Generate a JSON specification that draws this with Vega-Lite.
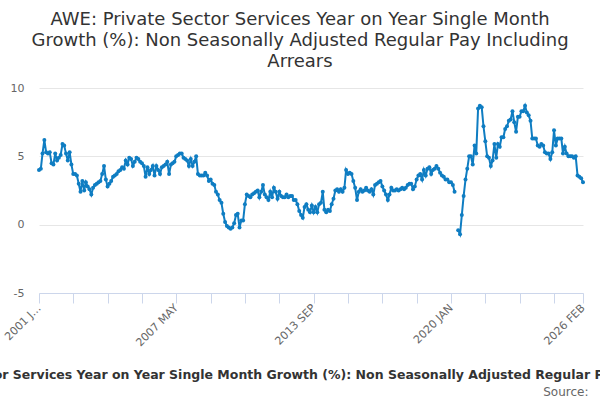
{
  "$schema": "https://vega.github.io/schema/vega-lite/v6.json",
  "width": 544,
  "height": 205,
  "autosize": {"type": "none"},
  "padding": {"left": 39, "top": 88, "right": 17, "bottom": 107},
  "background": "white",
  "config": {"font": "DejaVu Sans", "view": {"stroke": null}},
  "title": {
    "text": ["AWE: Private Sector Services Year on Year Single Month", "Growth (%): Non Seasonally Adjusted Regular Pay Including", "Arrears"],
    "anchor": "middle",
    "dx": -11,
    "offset": 11,
    "fontSize": 18,
    "fontWeight": "normal",
    "color": "#333333",
    "lineHeight": 21
  },
  "datasets": {
    "awe": [
      {"d":"2001-01","v":4.0},{"d":"2001-02","v":4.1},{"d":"2001-03","v":5.2},{"d":"2001-04","v":6.2},{"d":"2001-05","v":5.3},{"d":"2001-06","v":5.2},{"d":"2001-07","v":5.3},{"d":"2001-08","v":4.5},{"d":"2001-09","v":4.4},{"d":"2001-10","v":5.2},{"d":"2001-11","v":4.7},{"d":"2001-12","v":4.9},
      {"d":"2002-01","v":5.1},{"d":"2002-02","v":5.9},{"d":"2002-03","v":5.8},{"d":"2002-04","v":5.2},{"d":"2002-05","v":4.7},{"d":"2002-06","v":5.3},{"d":"2002-07","v":4.4},{"d":"2002-08","v":3.7},{"d":"2002-09","v":3.7},{"d":"2002-10","v":3.6},{"d":"2002-11","v":3.0},{"d":"2002-12","v":2.4},
      {"d":"2003-01","v":3.2},{"d":"2003-02","v":2.5},{"d":"2003-03","v":3.1},{"d":"2003-04","v":2.8},{"d":"2003-05","v":2.6},{"d":"2003-06","v":2.2},{"d":"2003-07","v":2.7},{"d":"2003-08","v":2.9},{"d":"2003-09","v":3.0},{"d":"2003-10","v":3.1},{"d":"2003-11","v":3.2},{"d":"2003-12","v":3.7},
      {"d":"2004-01","v":4.3},{"d":"2004-02","v":3.3},{"d":"2004-03","v":2.8},{"d":"2004-04","v":3.0},{"d":"2004-05","v":3.2},{"d":"2004-06","v":3.5},{"d":"2004-07","v":3.6},{"d":"2004-08","v":3.7},{"d":"2004-09","v":3.9},{"d":"2004-10","v":4.0},{"d":"2004-11","v":4.2},{"d":"2004-12","v":4.1},
      {"d":"2005-01","v":4.7},{"d":"2005-02","v":4.4},{"d":"2005-03","v":4.9},{"d":"2005-04","v":4.8},{"d":"2005-05","v":4.3},{"d":"2005-06","v":4.6},{"d":"2005-07","v":4.9},{"d":"2005-08","v":4.8},{"d":"2005-09","v":4.6},{"d":"2005-10","v":4.5},{"d":"2005-11","v":4.3},{"d":"2005-12","v":3.5},
      {"d":"2006-01","v":4.2},{"d":"2006-02","v":3.7},{"d":"2006-03","v":4.0},{"d":"2006-04","v":4.3},{"d":"2006-05","v":3.6},{"d":"2006-06","v":4.3},{"d":"2006-07","v":4.0},{"d":"2006-08","v":3.7},{"d":"2006-09","v":4.2},{"d":"2006-10","v":4.3},{"d":"2006-11","v":4.4},{"d":"2006-12","v":4.6},
      {"d":"2007-01","v":3.7},{"d":"2007-02","v":4.4},{"d":"2007-03","v":4.5},{"d":"2007-04","v":4.6},{"d":"2007-05","v":5.0},{"d":"2007-06","v":5.1},{"d":"2007-07","v":5.2},{"d":"2007-08","v":5.2},{"d":"2007-09","v":4.9},{"d":"2007-10","v":4.8},{"d":"2007-11","v":4.7},{"d":"2007-12","v":4.3},
      {"d":"2008-01","v":4.8},{"d":"2008-02","v":4.3},{"d":"2008-03","v":4.6},{"d":"2008-04","v":5.0},{"d":"2008-05","v":3.7},{"d":"2008-06","v":3.6},{"d":"2008-07","v":3.6},{"d":"2008-08","v":3.6},{"d":"2008-09","v":3.8},{"d":"2008-10","v":3.6},{"d":"2008-11","v":3.2},{"d":"2008-12","v":3.3},
      {"d":"2009-01","v":3.0},{"d":"2009-02","v":2.9},{"d":"2009-03","v":2.4},{"d":"2009-04","v":2.2},{"d":"2009-05","v":1.8},{"d":"2009-06","v":1.6},{"d":"2009-07","v":0.8},{"d":"2009-08","v":0.2},{"d":"2009-09","v":-0.1},{"d":"2009-10","v":-0.2},{"d":"2009-11","v":-0.3},{"d":"2009-12","v":-0.2},
      {"d":"2010-01","v":0.1},{"d":"2010-02","v":0.7},{"d":"2010-03","v":0.8},{"d":"2010-04","v":-0.2},{"d":"2010-05","v":0.3},{"d":"2010-06","v":0.3},{"d":"2010-07","v":1.5},{"d":"2010-08","v":2.2},{"d":"2010-09","v":2.1},{"d":"2010-10","v":2.0},{"d":"2010-11","v":2.2},{"d":"2010-12","v":2.3},
      {"d":"2011-01","v":2.4},{"d":"2011-02","v":2.5},{"d":"2011-03","v":2.0},{"d":"2011-04","v":2.4},{"d":"2011-05","v":2.9},{"d":"2011-06","v":2.2},{"d":"2011-07","v":2.0},{"d":"2011-08","v":1.8},{"d":"2011-09","v":2.4},{"d":"2011-10","v":2.0},{"d":"2011-11","v":2.7},{"d":"2011-12","v":2.4},
      {"d":"2012-01","v":1.9},{"d":"2012-02","v":2.4},{"d":"2012-03","v":2.1},{"d":"2012-04","v":2.0},{"d":"2012-05","v":2.0},{"d":"2012-06","v":2.2},{"d":"2012-07","v":2.0},{"d":"2012-08","v":2.1},{"d":"2012-09","v":2.1},{"d":"2012-10","v":1.8},{"d":"2012-11","v":1.8},{"d":"2012-12","v":1.5},
      {"d":"2013-01","v":1.0},{"d":"2013-02","v":0.7},{"d":"2013-03","v":0.5},{"d":"2013-04","v":1.3},{"d":"2013-05","v":1.5},{"d":"2013-06","v":1.1},{"d":"2013-07","v":0.9},{"d":"2013-08","v":1.4},{"d":"2013-09","v":0.9},{"d":"2013-10","v":1.3},{"d":"2013-11","v":0.9},{"d":"2013-12","v":1.5},
      {"d":"2014-01","v":1.6},{"d":"2014-02","v":2.4},{"d":"2014-03","v":1.1},{"d":"2014-04","v":0.9},{"d":"2014-05","v":1.1},{"d":"2014-06","v":1.0},{"d":"2014-07","v":1.5},{"d":"2014-08","v":1.9},{"d":"2014-09","v":2.5},{"d":"2014-10","v":2.6},{"d":"2014-11","v":2.4},{"d":"2014-12","v":2.6},
      {"d":"2015-01","v":2.4},{"d":"2015-02","v":2.7},{"d":"2015-03","v":4.0},{"d":"2015-04","v":3.7},{"d":"2015-05","v":3.8},{"d":"2015-06","v":3.7},{"d":"2015-07","v":3.2},{"d":"2015-08","v":2.7},{"d":"2015-09","v":1.8},{"d":"2015-10","v":2.4},{"d":"2015-11","v":2.6},{"d":"2015-12","v":2.4},
      {"d":"2016-01","v":2.5},{"d":"2016-02","v":2.7},{"d":"2016-03","v":2.5},{"d":"2016-04","v":2.4},{"d":"2016-05","v":2.6},{"d":"2016-06","v":2.2},{"d":"2016-07","v":2.9},{"d":"2016-08","v":3.0},{"d":"2016-09","v":3.1},{"d":"2016-10","v":3.2},{"d":"2016-11","v":2.8},{"d":"2016-12","v":2.5},
      {"d":"2017-01","v":2.2},{"d":"2017-02","v":1.8},{"d":"2017-03","v":2.2},{"d":"2017-04","v":2.7},{"d":"2017-05","v":2.5},{"d":"2017-06","v":2.5},{"d":"2017-07","v":2.6},{"d":"2017-08","v":2.5},{"d":"2017-09","v":2.6},{"d":"2017-10","v":2.7},{"d":"2017-11","v":2.6},{"d":"2017-12","v":2.7},
      {"d":"2018-01","v":2.9},{"d":"2018-02","v":3.0},{"d":"2018-03","v":3.0},{"d":"2018-04","v":2.6},{"d":"2018-05","v":2.8},{"d":"2018-06","v":3.3},{"d":"2018-07","v":3.6},{"d":"2018-08","v":3.7},{"d":"2018-09","v":3.3},{"d":"2018-10","v":4.0},{"d":"2018-11","v":3.6},{"d":"2018-12","v":4.1},
      {"d":"2019-01","v":4.2},{"d":"2019-02","v":3.7},{"d":"2019-03","v":4.0},{"d":"2019-04","v":4.1},{"d":"2019-05","v":4.3},{"d":"2019-06","v":4.1},{"d":"2019-07","v":3.8},{"d":"2019-08","v":3.6},{"d":"2019-09","v":3.5},{"d":"2019-10","v":3.3},{"d":"2019-11","v":3.3},{"d":"2019-12","v":3.1},
      {"d":"2020-01","v":3.1},{"d":"2020-02","v":2.9},{"d":"2020-03","v":2.4},{"d":"2020-04","v":null},{"d":"2020-05","v":-0.4},{"d":"2020-06","v":-0.7},{"d":"2020-07","v":0.7},{"d":"2020-08","v":2.1},{"d":"2020-09","v":3.3},{"d":"2020-10","v":4.1},{"d":"2020-11","v":5.0},{"d":"2020-12","v":5.0},
      {"d":"2021-01","v":4.4},{"d":"2021-02","v":5.8},{"d":"2021-03","v":5.2},{"d":"2021-04","v":8.5},{"d":"2021-05","v":8.7},{"d":"2021-06","v":8.6},{"d":"2021-07","v":7.2},{"d":"2021-08","v":6.1},{"d":"2021-09","v":5.0},{"d":"2021-10","v":4.9},{"d":"2021-11","v":4.3},{"d":"2021-12","v":4.7},
      {"d":"2022-01","v":5.9},{"d":"2022-02","v":4.9},{"d":"2022-03","v":5.9},{"d":"2022-04","v":5.7},{"d":"2022-05","v":6.4},{"d":"2022-06","v":6.4},{"d":"2022-07","v":7.0},{"d":"2022-08","v":7.2},{"d":"2022-09","v":7.6},{"d":"2022-10","v":7.7},{"d":"2022-11","v":8.3},{"d":"2022-12","v":7.5},
      {"d":"2023-01","v":6.8},{"d":"2023-02","v":7.9},{"d":"2023-03","v":7.9},{"d":"2023-04","v":8.3},{"d":"2023-05","v":8.3},{"d":"2023-06","v":8.7},{"d":"2023-07","v":8.2},{"d":"2023-08","v":8.0},{"d":"2023-09","v":7.6},{"d":"2023-10","v":6.3},{"d":"2023-11","v":6.3},{"d":"2023-12","v":6.3},
      {"d":"2024-01","v":5.8},{"d":"2024-02","v":5.7},{"d":"2024-03","v":5.9},{"d":"2024-04","v":5.8},{"d":"2024-05","v":5.3},{"d":"2024-06","v":5.2},{"d":"2024-07","v":5.2},{"d":"2024-08","v":4.8},{"d":"2024-09","v":5.3},{"d":"2024-10","v":6.9},{"d":"2024-11","v":5.8},{"d":"2024-12","v":6.3},
      {"d":"2025-01","v":6.3},{"d":"2025-02","v":6.3},{"d":"2025-03","v":5.2},{"d":"2025-04","v":5.7},{"d":"2025-05","v":5.2},{"d":"2025-06","v":5.0},{"d":"2025-07","v":5.0},{"d":"2025-08","v":5.0},{"d":"2025-09","v":4.9},{"d":"2025-10","v":5.0},{"d":"2025-11","v":3.6},{"d":"2025-12","v":3.5},
      {"d":"2026-01","v":3.4},{"d":"2026-02","v":3.1}
    ]
  },
  "data": {"name": "awe"},
  "layer": [
    {
      "mark": {
        "type": "line",
        "color": "#0f7dc2",
        "strokeWidth": 2,
        "point": {"filled": true, "size": 16, "color": "#0f7dc2"}
      },
      "encoding": {
        "x": {
          "field": "d",
          "type": "temporal",
          "scale": {
            "type": "utc",
            "domain": [{"year": 2001, "month": 1, "utc": true}, {"year": 2026, "month": 2, "utc": true}]
          },
          "axis": {
            "orient": "bottom",
            "values": [
              {"year": 2001, "month": 1, "utc": true},
              {"year": 2002, "month": 8, "utc": true},
              {"year": 2004, "month": 3, "utc": true},
              {"year": 2005, "month": 10, "utc": true},
              {"year": 2007, "month": 5, "utc": true},
              {"year": 2008, "month": 12, "utc": true},
              {"year": 2010, "month": 7, "utc": true},
              {"year": 2012, "month": 2, "utc": true},
              {"year": 2013, "month": 9, "utc": true},
              {"year": 2015, "month": 4, "utc": true},
              {"year": 2016, "month": 11, "utc": true},
              {"year": 2018, "month": 6, "utc": true},
              {"year": 2020, "month": 1, "utc": true},
              {"year": 2021, "month": 8, "utc": true},
              {"year": 2023, "month": 3, "utc": true},
              {"year": 2024, "month": 10, "utc": true},
              {"year": 2026, "month": 2, "utc": true}
            ],
            "labelExpr": "utcFormat(datum.value, '%Y-%m') == '2001-01' ? '2001 J…' : (indexof(['2007-05', '2013-09', '2020-01', '2026-02'], utcFormat(datum.value, '%Y-%m')) >= 0 ? upper(utcFormat(datum.value, '%Y %b')) : '')",
            "labelAngle": -45,
            "labelAlign": "right",
            "labelBaseline": "middle",
            "labelPadding": 3,
            "labelFontSize": 11,
            "labelColor": "#666666",
            "labelOverlap": false,
            "labelBound": false,
            "labelFlush": false,
            "grid": false,
            "domainColor": "#ccd6eb",
            "tickColor": "#ccd6eb",
            "tickSize": 10,
            "title": "AWE: Private Sector Services Year on Year Single Month Growth (%): Non Seasonally Adjusted Regular Pay Including Arrears",
            "titleFontSize": 12.5,
            "titleFontWeight": "bold",
            "titleColor": "#333333",
            "titleLimit": 3000,
            "titleAlign": "center",
            "titleBaseline": "alphabetic",
            "titleX": 267,
            "titleY": 85
          }
        },
        "y": {
          "field": "v",
          "type": "quantitative",
          "scale": {"domain": [-5, 10], "nice": false, "zero": false},
          "axis": {
            "values": [-5, 0, 5, 10],
            "labelExpr": "'' + datum.value",
            "title": null,
            "domain": false,
            "ticks": false,
            "gridColor": "#e6e6e6",
            "labelPadding": 15,
            "labelFontSize": 11,
            "labelColor": "#666666"
          }
        }
      }
    },
    {
      "mark": {"type": "line", "opacity": 0},
      "encoding": {
        "x": {
          "field": "d",
          "type": "temporal",
          "axis": {
            "orient": "bottom",
            "domain": false,
            "ticks": false,
            "labels": false,
            "grid": false,
            "title": "Source:",
            "titleFontSize": 12,
            "titleFontWeight": "normal",
            "titleColor": "#666666",
            "titleAlign": "right",
            "titleBaseline": "alphabetic",
            "titleX": 549,
            "titleY": 102
          }
        },
        "y": {"field": "v", "type": "quantitative"}
      }
    }
  ],
  "resolve": {"axis": {"x": "independent"}}
}
